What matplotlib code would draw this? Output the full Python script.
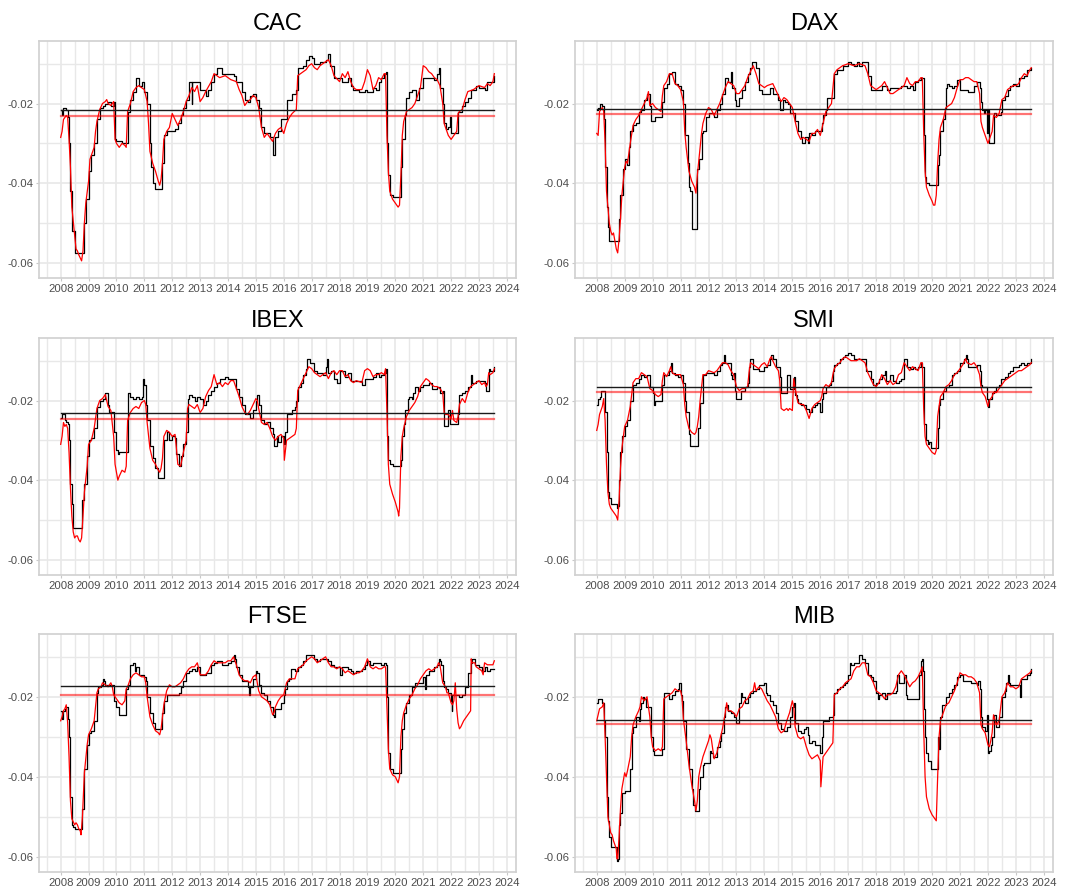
import matplotlib
matplotlib.use("Agg")
import matplotlib.pyplot as plt
from matplotlib.ticker import FixedLocator, FuncFormatter

plt.rcParams["font.family"] = ["Liberation Sans", "DejaVu Sans"]
plt.rcParams["axes.unicode_minus"] = False

# ---------------------------------------------------------------- data
INDICES = ["CAC", "DAX", "IBEX", "SMI", "FTSE", "MIB"]

# (year, value) pairs; black = step series, red = continuous series
CAC_BLACK = [(2008.00,-0.0215),(2008.05,-0.0230),(2008.08,-0.0212),(2008.20,-0.0215),(2008.25,-0.0235),(2008.30,-0.030),(2008.35,-0.042),(2008.40,-0.052),(2008.50,-0.0575),(2008.80,-0.0575),(2008.82,-0.050),(2008.90,-0.044),(2009.00,-0.037),(2009.10,-0.033),(2009.20,-0.030),(2009.30,-0.024),(2009.40,-0.021),(2009.50,-0.0205),(2009.60,-0.020),(2009.70,-0.0195),(2009.80,-0.0205),(2009.90,-0.0195),(2009.93,-0.029),(2010.00,-0.0295),(2010.20,-0.030),(2010.35,-0.030),(2010.40,-0.022),(2010.50,-0.019),(2010.60,-0.017),(2010.70,-0.0135),(2010.80,-0.0155),(2010.90,-0.0145),(2011.00,-0.017),(2011.10,-0.020),(2011.20,-0.030),(2011.25,-0.036),(2011.30,-0.040),(2011.40,-0.0415),(2011.60,-0.0415),(2011.65,-0.035),(2011.70,-0.028),(2011.80,-0.027),(2012.00,-0.027),(2012.10,-0.0265),(2012.20,-0.025),(2012.30,-0.023),(2012.40,-0.021),(2012.50,-0.019),(2012.60,-0.0145),(2012.70,-0.020),(2012.72,-0.0145),(2012.90,-0.0145),(2013.00,-0.0165),(2013.20,-0.018),(2013.30,-0.0165),(2013.40,-0.0145),(2013.50,-0.0125),(2013.60,-0.011),(2013.80,-0.0125),(2014.00,-0.0125),(2014.20,-0.013),(2014.30,-0.0145),(2014.50,-0.017),(2014.60,-0.019),(2014.70,-0.0195),(2014.80,-0.018),(2014.90,-0.0175),(2015.00,-0.019),(2015.10,-0.021),(2015.20,-0.026),(2015.30,-0.0275),(2015.50,-0.0285),(2015.60,-0.030),(2015.63,-0.033),(2015.67,-0.0285),(2015.80,-0.027),(2015.90,-0.024),(2016.10,-0.019),(2016.30,-0.0175),(2016.45,-0.0165),(2016.50,-0.011),(2016.70,-0.0105),(2016.80,-0.009),(2016.90,-0.008),(2017.00,-0.0085),(2017.10,-0.010),(2017.30,-0.0095),(2017.50,-0.009),(2017.60,-0.0075),(2017.65,-0.0105),(2017.80,-0.0135),(2018.00,-0.0135),(2018.10,-0.0145),(2018.30,-0.0135),(2018.40,-0.0155),(2018.50,-0.0165),(2018.70,-0.017),(2018.90,-0.0165),(2019.00,-0.017),(2019.20,-0.016),(2019.30,-0.0165),(2019.40,-0.0145),(2019.50,-0.0135),(2019.60,-0.0125),(2019.65,-0.012),(2019.70,-0.030),(2019.75,-0.038),(2019.80,-0.043),(2019.90,-0.0435),(2020.15,-0.0435),(2020.20,-0.036),(2020.25,-0.029),(2020.35,-0.023),(2020.40,-0.0185),(2020.50,-0.017),(2020.60,-0.0165),(2020.70,-0.0165),(2020.75,-0.019),(2020.85,-0.016),(2021.00,-0.0135),(2021.20,-0.0135),(2021.40,-0.014),(2021.50,-0.0125),(2021.55,-0.011),(2021.60,-0.016),(2021.70,-0.020),(2021.75,-0.025),(2021.80,-0.0265),(2021.90,-0.026),(2021.95,-0.0235),(2021.98,-0.0275),(2022.20,-0.0275),(2022.25,-0.022),(2022.40,-0.0205),(2022.50,-0.0195),(2022.60,-0.0185),(2022.70,-0.0165),(2022.90,-0.0155),(2023.00,-0.016),(2023.20,-0.0165),(2023.30,-0.0145),(2023.50,-0.0145),(2023.55,-0.013)]
CAC_RED = [(2008.00,-0.0285),(2008.05,-0.027),(2008.10,-0.024),(2008.20,-0.023),(2008.25,-0.0235),(2008.30,-0.029),(2008.35,-0.036),(2008.40,-0.046),(2008.50,-0.053),(2008.55,-0.0565),(2008.60,-0.057),(2008.65,-0.058),(2008.75,-0.0595),(2008.80,-0.057),(2008.85,-0.050),(2008.90,-0.045),(2009.00,-0.0395),(2009.05,-0.034),(2009.10,-0.033),(2009.20,-0.031),(2009.25,-0.027),(2009.30,-0.0245),(2009.40,-0.0215),(2009.50,-0.020),(2009.60,-0.0195),(2009.65,-0.019),(2009.70,-0.020),(2009.80,-0.0205),(2009.90,-0.0195),(2009.95,-0.029),(2010.00,-0.030),(2010.10,-0.031),(2010.20,-0.030),(2010.30,-0.0305),(2010.35,-0.031),(2010.40,-0.022),(2010.50,-0.020),(2010.60,-0.017),(2010.70,-0.016),(2010.80,-0.0155),(2010.90,-0.016),(2011.00,-0.0165),(2011.10,-0.0195),(2011.15,-0.025),(2011.20,-0.032),(2011.30,-0.035),(2011.40,-0.037),(2011.50,-0.0395),(2011.55,-0.0405),(2011.60,-0.039),(2011.65,-0.035),(2011.70,-0.029),(2011.80,-0.027),(2011.90,-0.026),(2012.00,-0.0225),(2012.10,-0.024),(2012.20,-0.0255),(2012.30,-0.024),(2012.40,-0.022),(2012.50,-0.0195),(2012.60,-0.018),(2012.70,-0.016),(2012.80,-0.017),(2012.90,-0.0155),(2013.00,-0.0195),(2013.10,-0.0185),(2013.20,-0.017),(2013.40,-0.0145),(2013.50,-0.0125),(2013.60,-0.013),(2013.70,-0.0135),(2013.90,-0.013),(2014.10,-0.014),(2014.30,-0.0145),(2014.40,-0.0165),(2014.50,-0.018),(2014.60,-0.0205),(2014.70,-0.0195),(2014.80,-0.019),(2014.90,-0.018),(2015.00,-0.0185),(2015.10,-0.021),(2015.20,-0.026),(2015.30,-0.0285),(2015.40,-0.0275),(2015.50,-0.0285),(2015.60,-0.0295),(2015.70,-0.0275),(2015.80,-0.0265),(2015.90,-0.026),(2016.00,-0.0275),(2016.10,-0.025),(2016.20,-0.0235),(2016.30,-0.0225),(2016.45,-0.0215),(2016.50,-0.013),(2016.60,-0.0125),(2016.80,-0.0115),(2016.90,-0.0105),(2017.00,-0.010),(2017.10,-0.011),(2017.20,-0.0115),(2017.30,-0.0105),(2017.50,-0.0095),(2017.60,-0.009),(2017.70,-0.0105),(2017.80,-0.013),(2018.00,-0.0145),(2018.10,-0.0125),(2018.20,-0.0135),(2018.30,-0.012),(2018.40,-0.0145),(2018.50,-0.016),(2018.60,-0.0165),(2018.80,-0.0165),(2018.90,-0.0145),(2019.00,-0.0115),(2019.10,-0.013),(2019.20,-0.0165),(2019.30,-0.0155),(2019.40,-0.0135),(2019.50,-0.014),(2019.60,-0.0125),(2019.65,-0.0125),(2019.70,-0.028),(2019.75,-0.037),(2019.80,-0.042),(2019.90,-0.044),(2020.00,-0.045),(2020.10,-0.046),(2020.15,-0.0455),(2020.20,-0.038),(2020.25,-0.028),(2020.30,-0.0245),(2020.40,-0.022),(2020.50,-0.0215),(2020.60,-0.021),(2020.70,-0.020),(2020.80,-0.018),(2020.90,-0.016),(2021.00,-0.0105),(2021.10,-0.011),(2021.20,-0.012),(2021.30,-0.0125),(2021.40,-0.0135),(2021.50,-0.014),(2021.60,-0.0155),(2021.70,-0.020),(2021.75,-0.025),(2021.80,-0.026),(2021.90,-0.028),(2022.00,-0.029),(2022.10,-0.028),(2022.20,-0.027),(2022.25,-0.0225),(2022.30,-0.022),(2022.40,-0.0215),(2022.50,-0.019),(2022.60,-0.017),(2022.80,-0.0165),(2023.00,-0.0155),(2023.20,-0.016),(2023.30,-0.015),(2023.40,-0.0155),(2023.50,-0.0145),(2023.55,-0.0125)]

DAX_BLACK = [(2008.00,-0.0215),(2008.05,-0.021),(2008.10,-0.020),(2008.20,-0.0205),(2008.25,-0.024),(2008.30,-0.036),(2008.35,-0.046),(2008.40,-0.051),(2008.45,-0.0545),(2008.75,-0.0545),(2008.78,-0.049),(2008.85,-0.043),(2008.95,-0.0365),(2009.00,-0.034),(2009.10,-0.0355),(2009.15,-0.031),(2009.20,-0.027),(2009.30,-0.0255),(2009.40,-0.025),(2009.50,-0.022),(2009.60,-0.0215),(2009.70,-0.019),(2009.80,-0.0175),(2009.90,-0.0205),(2009.95,-0.0245),(2010.10,-0.0235),(2010.30,-0.0235),(2010.35,-0.0195),(2010.40,-0.016),(2010.50,-0.015),(2010.60,-0.0125),(2010.70,-0.012),(2010.80,-0.015),(2010.90,-0.0155),(2011.00,-0.0165),(2011.10,-0.020),(2011.15,-0.028),(2011.25,-0.035),(2011.30,-0.041),(2011.35,-0.042),(2011.40,-0.0515),(2011.58,-0.0515),(2011.60,-0.0365),(2011.65,-0.034),(2011.75,-0.0275),(2011.80,-0.027),(2011.90,-0.0235),(2012.00,-0.0225),(2012.20,-0.0235),(2012.30,-0.0215),(2012.40,-0.020),(2012.50,-0.0175),(2012.60,-0.0135),(2012.70,-0.0145),(2012.80,-0.012),(2012.85,-0.016),(2012.95,-0.019),(2013.00,-0.0205),(2013.10,-0.0185),(2013.20,-0.0165),(2013.30,-0.0145),(2013.40,-0.0125),(2013.50,-0.011),(2013.55,-0.0095),(2013.60,-0.0095),(2013.70,-0.011),(2013.80,-0.0165),(2013.90,-0.0175),(2014.00,-0.0175),(2014.20,-0.016),(2014.30,-0.0175),(2014.40,-0.0175),(2014.50,-0.019),(2014.55,-0.0215),(2014.65,-0.019),(2014.75,-0.0195),(2014.85,-0.020),(2014.90,-0.0225),(2015.00,-0.0225),(2015.10,-0.0245),(2015.20,-0.027),(2015.30,-0.0285),(2015.35,-0.030),(2015.45,-0.0285),(2015.55,-0.030),(2015.60,-0.0275),(2015.70,-0.028),(2015.80,-0.027),(2016.00,-0.027),(2016.05,-0.025),(2016.10,-0.023),(2016.20,-0.0215),(2016.25,-0.0185),(2016.40,-0.0185),(2016.50,-0.0125),(2016.60,-0.0115),(2016.80,-0.0105),(2017.00,-0.0095),(2017.10,-0.010),(2017.20,-0.0105),(2017.30,-0.0095),(2017.40,-0.0105),(2017.50,-0.0095),(2017.60,-0.0095),(2017.70,-0.013),(2017.80,-0.0165),(2018.00,-0.0165),(2018.20,-0.0155),(2018.40,-0.0165),(2018.50,-0.016),(2018.70,-0.016),(2018.90,-0.0155),(2019.10,-0.016),(2019.20,-0.0155),(2019.30,-0.0165),(2019.40,-0.0145),(2019.50,-0.014),(2019.60,-0.0135),(2019.65,-0.0135),(2019.70,-0.028),(2019.75,-0.0385),(2019.80,-0.040),(2019.90,-0.0405),(2020.15,-0.0405),(2020.20,-0.0355),(2020.25,-0.033),(2020.30,-0.027),(2020.40,-0.024),(2020.45,-0.021),(2020.50,-0.016),(2020.55,-0.015),(2020.60,-0.0155),(2020.70,-0.016),(2020.80,-0.0155),(2020.90,-0.014),(2021.00,-0.0165),(2021.30,-0.017),(2021.40,-0.017),(2021.50,-0.0155),(2021.60,-0.0145),(2021.70,-0.016),(2021.75,-0.0195),(2021.80,-0.0215),(2021.85,-0.0225),(2021.90,-0.0215),(2021.95,-0.0275),(2022.00,-0.0215),(2022.05,-0.030),(2022.15,-0.030),(2022.20,-0.0225),(2022.30,-0.023),(2022.45,-0.022),(2022.50,-0.019),(2022.60,-0.018),(2022.70,-0.0165),(2022.80,-0.0155),(2022.90,-0.015),(2023.00,-0.0155),(2023.10,-0.0135),(2023.30,-0.013),(2023.40,-0.0115),(2023.50,-0.0115),(2023.55,-0.011)]
DAX_RED = [(2008.00,-0.0275),(2008.05,-0.028),(2008.10,-0.022),(2008.20,-0.021),(2008.25,-0.022),(2008.30,-0.030),(2008.35,-0.042),(2008.45,-0.050),(2008.50,-0.052),(2008.55,-0.053),(2008.60,-0.0525),(2008.70,-0.0565),(2008.75,-0.0575),(2008.80,-0.054),(2008.85,-0.049),(2008.90,-0.043),(2009.00,-0.036),(2009.05,-0.0345),(2009.10,-0.035),(2009.20,-0.030),(2009.30,-0.0255),(2009.40,-0.024),(2009.50,-0.023),(2009.60,-0.0215),(2009.70,-0.020),(2009.80,-0.0185),(2009.85,-0.017),(2009.90,-0.0205),(2010.00,-0.020),(2010.10,-0.021),(2010.20,-0.0215),(2010.30,-0.022),(2010.35,-0.018),(2010.40,-0.0155),(2010.50,-0.0145),(2010.60,-0.0125),(2010.70,-0.0125),(2010.80,-0.015),(2010.90,-0.0155),(2011.00,-0.0165),(2011.10,-0.0195),(2011.15,-0.027),(2011.20,-0.031),(2011.30,-0.037),(2011.40,-0.0395),(2011.50,-0.041),(2011.55,-0.0425),(2011.60,-0.038),(2011.65,-0.0345),(2011.70,-0.031),(2011.75,-0.0275),(2011.80,-0.025),(2011.90,-0.0225),(2012.00,-0.021),(2012.10,-0.0215),(2012.20,-0.023),(2012.30,-0.0215),(2012.40,-0.020),(2012.50,-0.018),(2012.60,-0.016),(2012.70,-0.0145),(2012.80,-0.015),(2012.90,-0.0155),(2013.00,-0.0175),(2013.10,-0.0175),(2013.20,-0.0165),(2013.30,-0.0155),(2013.40,-0.0135),(2013.50,-0.012),(2013.60,-0.0105),(2013.70,-0.0125),(2013.80,-0.015),(2013.90,-0.0155),(2014.00,-0.016),(2014.10,-0.0155),(2014.30,-0.015),(2014.40,-0.0165),(2014.50,-0.018),(2014.60,-0.0195),(2014.70,-0.0185),(2014.80,-0.019),(2014.90,-0.020),(2015.00,-0.021),(2015.10,-0.0245),(2015.20,-0.0275),(2015.30,-0.029),(2015.40,-0.0285),(2015.50,-0.029),(2015.60,-0.0295),(2015.70,-0.0275),(2015.80,-0.0275),(2015.90,-0.0265),(2016.00,-0.028),(2016.10,-0.025),(2016.20,-0.022),(2016.30,-0.021),(2016.40,-0.020),(2016.50,-0.0125),(2016.60,-0.0115),(2016.80,-0.0105),(2017.00,-0.010),(2017.20,-0.0105),(2017.40,-0.010),(2017.60,-0.0105),(2017.70,-0.0125),(2017.80,-0.0155),(2018.00,-0.0165),(2018.20,-0.0155),(2018.30,-0.0145),(2018.40,-0.016),(2018.50,-0.0175),(2018.60,-0.0175),(2018.80,-0.0165),(2019.00,-0.0155),(2019.10,-0.0135),(2019.20,-0.015),(2019.30,-0.0155),(2019.40,-0.0145),(2019.50,-0.0145),(2019.60,-0.0135),(2019.65,-0.0135),(2019.70,-0.027),(2019.75,-0.037),(2019.80,-0.041),(2019.90,-0.043),(2020.00,-0.0445),(2020.05,-0.0455),(2020.10,-0.0455),(2020.15,-0.043),(2020.20,-0.035),(2020.25,-0.029),(2020.30,-0.026),(2020.40,-0.024),(2020.50,-0.021),(2020.60,-0.0205),(2020.70,-0.020),(2020.80,-0.0185),(2020.90,-0.016),(2021.00,-0.014),(2021.10,-0.014),(2021.20,-0.0135),(2021.30,-0.0135),(2021.40,-0.014),(2021.50,-0.0145),(2021.60,-0.0145),(2021.70,-0.0175),(2021.75,-0.0245),(2021.80,-0.026),(2021.90,-0.028),(2022.00,-0.030),(2022.05,-0.029),(2022.15,-0.027),(2022.20,-0.023),(2022.30,-0.0235),(2022.40,-0.0225),(2022.50,-0.019),(2022.60,-0.0185),(2022.70,-0.0165),(2022.80,-0.016),(2022.90,-0.0155),(2023.00,-0.0155),(2023.10,-0.015),(2023.20,-0.0135),(2023.30,-0.0125),(2023.40,-0.013),(2023.50,-0.0115),(2023.55,-0.011)]

IBEX_BLACK = [(2008.00,-0.0245),(2008.05,-0.0235),(2008.10,-0.0235),(2008.15,-0.025),(2008.20,-0.0255),(2008.25,-0.026),(2008.30,-0.030),(2008.35,-0.041),(2008.40,-0.046),(2008.45,-0.052),(2008.75,-0.052),(2008.78,-0.045),(2008.85,-0.041),(2008.95,-0.034),(2009.00,-0.030),(2009.10,-0.0295),(2009.20,-0.027),(2009.30,-0.0215),(2009.40,-0.020),(2009.50,-0.0195),(2009.60,-0.018),(2009.70,-0.021),(2009.75,-0.023),(2009.85,-0.023),(2009.90,-0.028),(2010.00,-0.0325),(2010.05,-0.0335),(2010.10,-0.033),(2010.35,-0.033),(2010.40,-0.018),(2010.50,-0.019),(2010.60,-0.0195),(2010.70,-0.019),(2010.80,-0.0195),(2010.90,-0.019),(2010.95,-0.0145),(2011.00,-0.016),(2011.05,-0.021),(2011.10,-0.025),(2011.20,-0.0315),(2011.30,-0.0345),(2011.40,-0.037),(2011.50,-0.0395),(2011.65,-0.0395),(2011.70,-0.030),(2011.80,-0.028),(2011.90,-0.030),(2012.00,-0.029),(2012.10,-0.0295),(2012.15,-0.0335),(2012.25,-0.0365),(2012.30,-0.034),(2012.40,-0.031),(2012.50,-0.028),(2012.55,-0.0195),(2012.60,-0.0185),(2012.70,-0.019),(2012.80,-0.020),(2012.90,-0.019),(2013.00,-0.0195),(2013.10,-0.021),(2013.20,-0.020),(2013.30,-0.0185),(2013.40,-0.0175),(2013.50,-0.0165),(2013.60,-0.0155),(2013.70,-0.0145),(2013.90,-0.014),(2014.00,-0.0145),(2014.20,-0.0145),(2014.30,-0.017),(2014.40,-0.019),(2014.50,-0.021),(2014.60,-0.0235),(2014.80,-0.0245),(2014.90,-0.0225),(2015.00,-0.020),(2015.05,-0.0185),(2015.10,-0.021),(2015.20,-0.025),(2015.30,-0.026),(2015.40,-0.0255),(2015.50,-0.027),(2015.60,-0.0285),(2015.65,-0.0315),(2015.75,-0.029),(2015.80,-0.0305),(2015.90,-0.029),(2016.00,-0.031),(2016.05,-0.028),(2016.10,-0.0235),(2016.20,-0.0235),(2016.30,-0.0225),(2016.40,-0.0215),(2016.45,-0.020),(2016.50,-0.0165),(2016.60,-0.0155),(2016.70,-0.0135),(2016.80,-0.012),(2016.85,-0.0095),(2016.95,-0.0105),(2017.10,-0.0125),(2017.20,-0.013),(2017.40,-0.0135),(2017.50,-0.0115),(2017.55,-0.0095),(2017.60,-0.013),(2017.70,-0.0125),(2017.80,-0.0145),(2017.90,-0.0155),(2018.00,-0.0125),(2018.10,-0.0125),(2018.20,-0.014),(2018.30,-0.013),(2018.40,-0.015),(2018.60,-0.015),(2018.80,-0.016),(2018.90,-0.0145),(2019.00,-0.0145),(2019.20,-0.014),(2019.30,-0.013),(2019.40,-0.014),(2019.50,-0.0135),(2019.60,-0.013),(2019.65,-0.012),(2019.70,-0.029),(2019.75,-0.035),(2019.80,-0.036),(2019.90,-0.0365),(2020.15,-0.0365),(2020.20,-0.035),(2020.25,-0.029),(2020.30,-0.026),(2020.35,-0.0225),(2020.45,-0.0195),(2020.50,-0.019),(2020.60,-0.0195),(2020.65,-0.018),(2020.70,-0.0165),(2020.80,-0.0175),(2020.90,-0.0165),(2021.00,-0.016),(2021.20,-0.0155),(2021.30,-0.017),(2021.50,-0.0165),(2021.60,-0.018),(2021.70,-0.0175),(2021.75,-0.0265),(2021.85,-0.0265),(2021.90,-0.0225),(2021.95,-0.026),(2022.20,-0.026),(2022.25,-0.0235),(2022.30,-0.0185),(2022.40,-0.018),(2022.50,-0.0175),(2022.60,-0.0165),(2022.70,-0.0135),(2022.75,-0.0155),(2022.90,-0.015),(2023.20,-0.0155),(2023.25,-0.0175),(2023.30,-0.0175),(2023.35,-0.012),(2023.40,-0.0125),(2023.50,-0.0125),(2023.55,-0.0115)]
IBEX_RED = [(2008.00,-0.031),(2008.05,-0.029),(2008.10,-0.0255),(2008.15,-0.0265),(2008.20,-0.026),(2008.25,-0.027),(2008.30,-0.033),(2008.35,-0.042),(2008.40,-0.049),(2008.45,-0.053),(2008.50,-0.0545),(2008.55,-0.054),(2008.60,-0.054),(2008.65,-0.055),(2008.70,-0.0555),(2008.75,-0.0545),(2008.80,-0.049),(2008.85,-0.043),(2008.95,-0.0365),(2009.00,-0.031),(2009.10,-0.030),(2009.20,-0.027),(2009.30,-0.022),(2009.40,-0.020),(2009.50,-0.0195),(2009.60,-0.0185),(2009.70,-0.0215),(2009.80,-0.0225),(2009.90,-0.029),(2009.95,-0.036),(2010.00,-0.038),(2010.05,-0.040),(2010.10,-0.039),(2010.20,-0.0375),(2010.30,-0.038),(2010.35,-0.0365),(2010.40,-0.025),(2010.50,-0.023),(2010.60,-0.022),(2010.70,-0.0215),(2010.80,-0.022),(2010.90,-0.0205),(2011.00,-0.020),(2011.05,-0.021),(2011.10,-0.0255),(2011.20,-0.032),(2011.30,-0.035),(2011.40,-0.036),(2011.50,-0.0375),(2011.55,-0.038),(2011.60,-0.037),(2011.65,-0.0345),(2011.70,-0.029),(2011.80,-0.0275),(2011.90,-0.028),(2012.00,-0.029),(2012.10,-0.0285),(2012.15,-0.032),(2012.20,-0.036),(2012.30,-0.0365),(2012.40,-0.033),(2012.50,-0.030),(2012.55,-0.022),(2012.60,-0.021),(2012.70,-0.0215),(2012.80,-0.022),(2012.90,-0.021),(2013.00,-0.023),(2013.10,-0.022),(2013.20,-0.019),(2013.30,-0.0175),(2013.40,-0.0165),(2013.50,-0.0135),(2013.60,-0.016),(2013.70,-0.0155),(2013.80,-0.0165),(2013.90,-0.0155),(2014.00,-0.016),(2014.10,-0.015),(2014.20,-0.015),(2014.30,-0.017),(2014.40,-0.019),(2014.50,-0.0215),(2014.60,-0.023),(2014.70,-0.0235),(2014.80,-0.0225),(2014.90,-0.021),(2015.00,-0.0195),(2015.05,-0.020),(2015.10,-0.022),(2015.20,-0.0255),(2015.30,-0.026),(2015.40,-0.0255),(2015.50,-0.027),(2015.60,-0.029),(2015.70,-0.030),(2015.80,-0.029),(2015.90,-0.0285),(2016.00,-0.0295),(2016.02,-0.035),(2016.10,-0.030),(2016.20,-0.0295),(2016.30,-0.029),(2016.40,-0.0285),(2016.45,-0.027),(2016.50,-0.0175),(2016.60,-0.016),(2016.70,-0.0145),(2016.80,-0.013),(2016.90,-0.0115),(2017.00,-0.012),(2017.10,-0.013),(2017.20,-0.0135),(2017.30,-0.014),(2017.40,-0.0135),(2017.50,-0.013),(2017.60,-0.0145),(2017.70,-0.013),(2017.80,-0.0125),(2017.90,-0.0135),(2018.00,-0.0125),(2018.10,-0.0125),(2018.20,-0.014),(2018.30,-0.0135),(2018.40,-0.015),(2018.50,-0.0155),(2018.60,-0.015),(2018.80,-0.0155),(2018.90,-0.0125),(2019.00,-0.012),(2019.10,-0.0125),(2019.20,-0.014),(2019.30,-0.0135),(2019.40,-0.0135),(2019.50,-0.013),(2019.60,-0.0135),(2019.65,-0.012),(2019.70,-0.023),(2019.75,-0.036),(2019.80,-0.041),(2019.90,-0.0435),(2020.00,-0.0455),(2020.10,-0.048),(2020.12,-0.049),(2020.15,-0.047),(2020.20,-0.034),(2020.25,-0.029),(2020.30,-0.027),(2020.35,-0.0255),(2020.40,-0.024),(2020.50,-0.0225),(2020.60,-0.0215),(2020.70,-0.0205),(2020.80,-0.019),(2020.90,-0.0165),(2021.00,-0.0155),(2021.10,-0.0145),(2021.20,-0.015),(2021.30,-0.016),(2021.40,-0.0165),(2021.50,-0.0165),(2021.60,-0.017),(2021.70,-0.018),(2021.75,-0.023),(2021.80,-0.0235),(2021.90,-0.0235),(2022.00,-0.0245),(2022.05,-0.0225),(2022.10,-0.025),(2022.20,-0.0255),(2022.25,-0.024),(2022.30,-0.021),(2022.40,-0.0195),(2022.50,-0.0205),(2022.60,-0.018),(2022.70,-0.0165),(2022.80,-0.016),(2022.90,-0.0155),(2023.00,-0.015),(2023.10,-0.016),(2023.20,-0.0155),(2023.25,-0.0165),(2023.30,-0.016),(2023.35,-0.013),(2023.40,-0.0135),(2023.50,-0.013),(2023.55,-0.012)]

SMI_BLACK = [(2008.00,-0.021),(2008.05,-0.0195),(2008.10,-0.019),(2008.15,-0.0175),(2008.25,-0.0175),(2008.30,-0.023),(2008.35,-0.033),(2008.40,-0.043),(2008.45,-0.0445),(2008.50,-0.046),(2008.70,-0.046),(2008.72,-0.047),(2008.75,-0.0465),(2008.80,-0.040),(2008.85,-0.033),(2008.90,-0.029),(2009.00,-0.0265),(2009.10,-0.025),(2009.20,-0.020),(2009.30,-0.016),(2009.40,-0.0155),(2009.50,-0.0145),(2009.60,-0.0135),(2009.70,-0.014),(2009.80,-0.0135),(2009.90,-0.0165),(2010.00,-0.018),(2010.05,-0.021),(2010.10,-0.020),(2010.30,-0.020),(2010.35,-0.016),(2010.40,-0.0135),(2010.60,-0.0125),(2010.65,-0.0105),(2010.70,-0.013),(2010.80,-0.0135),(2010.90,-0.014),(2011.00,-0.0135),(2011.10,-0.0155),(2011.15,-0.020),(2011.20,-0.023),(2011.30,-0.0285),(2011.35,-0.0315),(2011.60,-0.0315),(2011.62,-0.027),(2011.70,-0.0205),(2011.80,-0.0135),(2011.90,-0.013),(2012.10,-0.013),(2012.20,-0.0135),(2012.30,-0.0125),(2012.40,-0.011),(2012.50,-0.0105),(2012.55,-0.0085),(2012.60,-0.0105),(2012.70,-0.0105),(2012.80,-0.0135),(2012.85,-0.0145),(2012.90,-0.013),(2012.95,-0.0175),(2013.00,-0.0195),(2013.10,-0.0195),(2013.15,-0.0175),(2013.30,-0.0165),(2013.40,-0.0155),(2013.45,-0.0115),(2013.50,-0.0095),(2013.60,-0.012),(2013.80,-0.0125),(2014.00,-0.0115),(2014.10,-0.011),(2014.20,-0.0095),(2014.25,-0.0085),(2014.30,-0.0095),(2014.40,-0.0115),(2014.50,-0.0115),(2014.55,-0.014),(2014.60,-0.018),(2014.80,-0.018),(2014.82,-0.0135),(2014.90,-0.017),(2015.00,-0.017),(2015.05,-0.014),(2015.10,-0.0185),(2015.15,-0.0195),(2015.20,-0.0205),(2015.30,-0.021),(2015.40,-0.021),(2015.50,-0.022),(2015.60,-0.023),(2015.70,-0.0215),(2015.80,-0.021),(2015.90,-0.0205),(2016.00,-0.023),(2016.05,-0.0195),(2016.10,-0.018),(2016.20,-0.0165),(2016.30,-0.016),(2016.40,-0.015),(2016.45,-0.0125),(2016.50,-0.011),(2016.60,-0.0105),(2016.70,-0.0095),(2016.80,-0.009),(2016.90,-0.0085),(2017.00,-0.008),(2017.10,-0.0085),(2017.20,-0.0095),(2017.60,-0.0095),(2017.65,-0.0125),(2017.80,-0.0145),(2017.90,-0.016),(2018.00,-0.0155),(2018.10,-0.0145),(2018.20,-0.0135),(2018.30,-0.0125),(2018.35,-0.015),(2018.50,-0.0135),(2018.60,-0.015),(2018.70,-0.0155),(2018.80,-0.015),(2018.90,-0.0145),(2019.00,-0.0095),(2019.05,-0.0095),(2019.10,-0.0115),(2019.20,-0.012),(2019.30,-0.0115),(2019.40,-0.012),(2019.50,-0.0115),(2019.60,-0.0105),(2019.65,-0.0115),(2019.70,-0.0195),(2019.72,-0.026),(2019.80,-0.030),(2019.85,-0.031),(2019.90,-0.0305),(2019.95,-0.032),(2020.15,-0.032),(2020.20,-0.027),(2020.25,-0.021),(2020.30,-0.0195),(2020.40,-0.0175),(2020.50,-0.0165),(2020.60,-0.016),(2020.70,-0.0135),(2020.80,-0.013),(2020.90,-0.0125),(2021.00,-0.0105),(2021.10,-0.0105),(2021.15,-0.0095),(2021.20,-0.0085),(2021.25,-0.0095),(2021.30,-0.0115),(2021.50,-0.0115),(2021.60,-0.011),(2021.70,-0.0125),(2021.75,-0.016),(2021.80,-0.0165),(2021.90,-0.0165),(2021.95,-0.0195),(2022.00,-0.0215),(2022.05,-0.0195),(2022.15,-0.018),(2022.20,-0.0175),(2022.30,-0.0165),(2022.40,-0.016),(2022.45,-0.0145),(2022.60,-0.014),(2022.70,-0.013),(2022.80,-0.0125),(2022.90,-0.0115),(2023.00,-0.0115),(2023.10,-0.011),(2023.20,-0.0105),(2023.30,-0.011),(2023.40,-0.0105),(2023.50,-0.0105),(2023.55,-0.0095)]
SMI_RED = [(2008.00,-0.0275),(2008.05,-0.026),(2008.10,-0.0235),(2008.15,-0.0225),(2008.20,-0.0215),(2008.25,-0.0195),(2008.30,-0.025),(2008.35,-0.036),(2008.40,-0.043),(2008.45,-0.046),(2008.50,-0.047),(2008.60,-0.048),(2008.70,-0.049),(2008.75,-0.050),(2008.80,-0.045),(2008.85,-0.037),(2008.90,-0.032),(2009.00,-0.0265),(2009.10,-0.025),(2009.20,-0.0215),(2009.30,-0.0155),(2009.40,-0.0145),(2009.50,-0.0145),(2009.60,-0.013),(2009.70,-0.0135),(2009.80,-0.014),(2009.90,-0.017),(2010.00,-0.0175),(2010.10,-0.0185),(2010.20,-0.019),(2010.30,-0.0185),(2010.35,-0.015),(2010.40,-0.013),(2010.50,-0.014),(2010.60,-0.0125),(2010.65,-0.0115),(2010.70,-0.013),(2010.80,-0.0135),(2011.00,-0.0135),(2011.10,-0.016),(2011.15,-0.021),(2011.20,-0.024),(2011.30,-0.027),(2011.40,-0.028),(2011.50,-0.0285),(2011.55,-0.028),(2011.60,-0.0265),(2011.65,-0.024),(2011.70,-0.020),(2011.80,-0.0135),(2011.90,-0.0135),(2012.00,-0.0125),(2012.20,-0.013),(2012.30,-0.0125),(2012.40,-0.0115),(2012.50,-0.0105),(2012.60,-0.0105),(2012.70,-0.011),(2012.80,-0.0125),(2012.90,-0.0135),(2013.00,-0.0165),(2013.10,-0.0175),(2013.20,-0.017),(2013.30,-0.017),(2013.40,-0.0165),(2013.45,-0.013),(2013.50,-0.0105),(2013.60,-0.011),(2013.70,-0.0115),(2013.80,-0.012),(2013.90,-0.011),(2014.00,-0.0105),(2014.10,-0.0115),(2014.20,-0.0095),(2014.25,-0.009),(2014.30,-0.010),(2014.40,-0.0115),(2014.50,-0.0125),(2014.55,-0.015),(2014.60,-0.022),(2014.70,-0.0225),(2014.80,-0.022),(2014.85,-0.0225),(2014.90,-0.022),(2015.00,-0.0225),(2015.05,-0.0145),(2015.10,-0.017),(2015.20,-0.0205),(2015.30,-0.021),(2015.40,-0.021),(2015.50,-0.0225),(2015.60,-0.0245),(2015.70,-0.022),(2015.80,-0.021),(2015.90,-0.0205),(2016.00,-0.020),(2016.05,-0.019),(2016.10,-0.017),(2016.20,-0.016),(2016.30,-0.0165),(2016.40,-0.0155),(2016.45,-0.0135),(2016.50,-0.012),(2016.60,-0.011),(2016.70,-0.0105),(2016.80,-0.0095),(2016.90,-0.009),(2017.00,-0.0095),(2017.10,-0.010),(2017.30,-0.010),(2017.40,-0.0095),(2017.50,-0.010),(2017.60,-0.0105),(2017.70,-0.013),(2017.80,-0.0145),(2017.90,-0.016),(2018.00,-0.0165),(2018.10,-0.0155),(2018.20,-0.0135),(2018.30,-0.0145),(2018.40,-0.016),(2018.50,-0.015),(2018.60,-0.016),(2018.70,-0.0155),(2018.80,-0.0135),(2018.90,-0.013),(2019.00,-0.0105),(2019.10,-0.0115),(2019.20,-0.0125),(2019.30,-0.0115),(2019.40,-0.012),(2019.50,-0.0125),(2019.60,-0.0105),(2019.65,-0.0105),(2019.70,-0.022),(2019.75,-0.029),(2019.80,-0.031),(2019.90,-0.032),(2020.00,-0.033),(2020.10,-0.0335),(2020.15,-0.0325),(2020.20,-0.024),(2020.25,-0.0215),(2020.30,-0.019),(2020.40,-0.018),(2020.50,-0.0165),(2020.60,-0.016),(2020.70,-0.015),(2020.80,-0.0135),(2020.90,-0.013),(2021.00,-0.012),(2021.10,-0.011),(2021.20,-0.0095),(2021.25,-0.0105),(2021.40,-0.011),(2021.50,-0.0105),(2021.60,-0.0115),(2021.70,-0.0135),(2021.75,-0.0165),(2021.80,-0.018),(2021.90,-0.019),(2022.00,-0.0215),(2022.05,-0.020),(2022.15,-0.019),(2022.20,-0.018),(2022.30,-0.018),(2022.40,-0.017),(2022.50,-0.016),(2022.60,-0.015),(2022.70,-0.0145),(2022.80,-0.014),(2022.90,-0.0135),(2023.00,-0.013),(2023.10,-0.0125),(2023.20,-0.0125),(2023.30,-0.012),(2023.40,-0.0115),(2023.50,-0.011),(2023.55,-0.0105)]

FTSE_BLACK = [(2008.00,-0.0235),(2008.05,-0.0255),(2008.10,-0.0235),(2008.15,-0.023),(2008.20,-0.0225),(2008.25,-0.0255),(2008.30,-0.030),(2008.35,-0.045),(2008.40,-0.052),(2008.45,-0.0525),(2008.50,-0.053),(2008.75,-0.053),(2008.78,-0.048),(2008.85,-0.038),(2008.95,-0.032),(2009.00,-0.029),(2009.10,-0.0285),(2009.20,-0.026),(2009.30,-0.019),(2009.35,-0.0175),(2009.45,-0.017),(2009.50,-0.0155),(2009.55,-0.016),(2009.60,-0.017),(2009.90,-0.017),(2009.92,-0.021),(2010.00,-0.0225),(2010.10,-0.0245),(2010.30,-0.0245),(2010.35,-0.018),(2010.40,-0.017),(2010.50,-0.012),(2010.60,-0.0115),(2010.65,-0.0135),(2010.70,-0.0125),(2010.80,-0.0145),(2010.90,-0.0145),(2011.00,-0.015),(2011.05,-0.016),(2011.10,-0.020),(2011.20,-0.024),(2011.30,-0.0265),(2011.40,-0.028),(2011.60,-0.028),(2011.65,-0.024),(2011.70,-0.021),(2011.80,-0.0195),(2012.20,-0.0195),(2012.25,-0.019),(2012.30,-0.0175),(2012.40,-0.016),(2012.50,-0.014),(2012.60,-0.0135),(2012.70,-0.013),(2012.80,-0.0135),(2012.90,-0.0125),(2013.00,-0.0145),(2013.10,-0.0145),(2013.20,-0.014),(2013.40,-0.012),(2013.50,-0.0115),(2013.60,-0.011),(2013.70,-0.011),(2013.80,-0.012),(2014.00,-0.0115),(2014.10,-0.011),(2014.20,-0.0095),(2014.25,-0.0105),(2014.30,-0.0125),(2014.40,-0.0145),(2014.50,-0.016),(2014.60,-0.016),(2014.70,-0.0175),(2014.75,-0.0195),(2014.80,-0.0175),(2014.90,-0.0155),(2015.00,-0.0135),(2015.05,-0.014),(2015.10,-0.017),(2015.20,-0.019),(2015.30,-0.0195),(2015.40,-0.021),(2015.50,-0.0225),(2015.60,-0.0245),(2015.65,-0.025),(2015.70,-0.023),(2015.80,-0.023),(2015.90,-0.0215),(2016.00,-0.0195),(2016.05,-0.018),(2016.10,-0.016),(2016.20,-0.0155),(2016.25,-0.013),(2016.40,-0.0135),(2016.50,-0.0125),(2016.60,-0.012),(2016.70,-0.011),(2016.80,-0.0095),(2017.00,-0.0095),(2017.10,-0.0105),(2017.20,-0.011),(2017.30,-0.0105),(2017.50,-0.0105),(2017.60,-0.011),(2017.70,-0.012),(2017.80,-0.0125),(2017.90,-0.0125),(2018.00,-0.0145),(2018.10,-0.0125),(2018.20,-0.0125),(2018.30,-0.013),(2018.40,-0.0135),(2018.50,-0.014),(2018.60,-0.0135),(2018.70,-0.0135),(2018.80,-0.013),(2018.90,-0.012),(2019.00,-0.011),(2019.10,-0.012),(2019.20,-0.0115),(2019.30,-0.0115),(2019.50,-0.012),(2019.60,-0.0115),(2019.65,-0.012),(2019.70,-0.020),(2019.75,-0.034),(2019.80,-0.038),(2019.90,-0.039),(2020.15,-0.039),(2020.20,-0.033),(2020.25,-0.028),(2020.30,-0.024),(2020.40,-0.0215),(2020.50,-0.0195),(2020.60,-0.0175),(2020.70,-0.0165),(2020.90,-0.0165),(2021.00,-0.015),(2021.05,-0.018),(2021.10,-0.0145),(2021.20,-0.0135),(2021.30,-0.0135),(2021.40,-0.0125),(2021.50,-0.012),(2021.55,-0.0105),(2021.60,-0.011),(2021.65,-0.012),(2021.70,-0.016),(2021.75,-0.0175),(2021.80,-0.018),(2021.90,-0.019),(2022.00,-0.021),(2022.02,-0.0235),(2022.05,-0.0195),(2022.30,-0.020),(2022.40,-0.0195),(2022.50,-0.0175),(2022.60,-0.014),(2022.70,-0.0115),(2022.75,-0.0105),(2022.85,-0.012),(2023.00,-0.0125),(2023.10,-0.0135),(2023.20,-0.0125),(2023.30,-0.0135),(2023.40,-0.013),(2023.55,-0.013)]
FTSE_RED = [(2008.00,-0.026),(2008.05,-0.025),(2008.10,-0.0235),(2008.15,-0.023),(2008.20,-0.022),(2008.25,-0.0265),(2008.30,-0.035),(2008.35,-0.046),(2008.40,-0.0505),(2008.50,-0.052),(2008.55,-0.0515),(2008.60,-0.052),(2008.65,-0.053),(2008.70,-0.0535),(2008.73,-0.0545),(2008.78,-0.050),(2008.85,-0.039),(2008.95,-0.032),(2009.00,-0.0295),(2009.10,-0.028),(2009.20,-0.026),(2009.30,-0.019),(2009.35,-0.018),(2009.45,-0.0175),(2009.50,-0.0165),(2009.60,-0.017),(2009.70,-0.0175),(2009.80,-0.0165),(2009.85,-0.0175),(2009.90,-0.0195),(2010.00,-0.0205),(2010.10,-0.0215),(2010.20,-0.022),(2010.30,-0.021),(2010.35,-0.018),(2010.40,-0.0175),(2010.50,-0.0155),(2010.60,-0.0145),(2010.70,-0.014),(2010.80,-0.0145),(2010.90,-0.015),(2011.00,-0.015),(2011.05,-0.0165),(2011.10,-0.020),(2011.20,-0.025),(2011.30,-0.027),(2011.40,-0.0285),(2011.50,-0.029),(2011.55,-0.0295),(2011.60,-0.028),(2011.65,-0.025),(2011.70,-0.022),(2011.80,-0.0185),(2011.90,-0.017),(2012.00,-0.0175),(2012.10,-0.0175),(2012.20,-0.017),(2012.30,-0.0165),(2012.40,-0.0155),(2012.50,-0.014),(2012.60,-0.013),(2012.70,-0.0125),(2012.80,-0.0125),(2012.90,-0.0115),(2013.00,-0.0145),(2013.20,-0.0145),(2013.30,-0.0135),(2013.40,-0.012),(2013.50,-0.011),(2013.60,-0.0115),(2013.90,-0.0115),(2014.00,-0.011),(2014.10,-0.011),(2014.20,-0.010),(2014.25,-0.011),(2014.30,-0.012),(2014.40,-0.0145),(2014.50,-0.0155),(2014.60,-0.016),(2014.70,-0.016),(2014.80,-0.0165),(2014.90,-0.015),(2015.00,-0.0145),(2015.10,-0.0185),(2015.20,-0.020),(2015.30,-0.0205),(2015.40,-0.021),(2015.50,-0.022),(2015.60,-0.0245),(2015.65,-0.024),(2015.70,-0.0225),(2015.80,-0.021),(2015.90,-0.020),(2016.00,-0.0195),(2016.10,-0.0165),(2016.20,-0.0155),(2016.40,-0.0155),(2016.50,-0.013),(2016.60,-0.0125),(2016.70,-0.012),(2016.80,-0.011),(2016.90,-0.0105),(2017.00,-0.010),(2017.10,-0.0105),(2017.20,-0.0115),(2017.30,-0.011),(2017.40,-0.0105),(2017.50,-0.010),(2017.60,-0.0115),(2017.70,-0.0125),(2017.80,-0.0125),(2017.90,-0.013),(2018.00,-0.0125),(2018.10,-0.013),(2018.20,-0.014),(2018.30,-0.0135),(2018.40,-0.014),(2018.50,-0.0145),(2018.60,-0.014),(2018.70,-0.014),(2018.80,-0.0135),(2018.90,-0.0125),(2019.00,-0.0105),(2019.10,-0.0125),(2019.20,-0.013),(2019.30,-0.0125),(2019.40,-0.013),(2019.50,-0.013),(2019.60,-0.0125),(2019.65,-0.0125),(2019.70,-0.023),(2019.75,-0.033),(2019.80,-0.038),(2019.90,-0.0395),(2020.00,-0.040),(2020.10,-0.0415),(2020.15,-0.040),(2020.20,-0.030),(2020.25,-0.026),(2020.30,-0.024),(2020.40,-0.022),(2020.50,-0.0205),(2020.60,-0.0195),(2020.70,-0.018),(2020.80,-0.017),(2020.90,-0.0155),(2021.00,-0.0145),(2021.10,-0.0135),(2021.20,-0.013),(2021.30,-0.0135),(2021.40,-0.013),(2021.50,-0.0125),(2021.55,-0.0115),(2021.60,-0.012),(2021.70,-0.0165),(2021.80,-0.0175),(2021.85,-0.019),(2021.90,-0.019),(2022.00,-0.0215),(2022.05,-0.022),(2022.10,-0.021),(2022.15,-0.0165),(2022.20,-0.023),(2022.25,-0.0265),(2022.30,-0.028),(2022.35,-0.0275),(2022.45,-0.026),(2022.55,-0.025),(2022.65,-0.024),(2022.70,-0.0235),(2022.72,-0.0105),(2022.75,-0.0115),(2022.85,-0.0115),(2022.90,-0.0125),(2023.00,-0.013),(2023.10,-0.0135),(2023.15,-0.0145),(2023.20,-0.0115),(2023.30,-0.012),(2023.50,-0.012),(2023.55,-0.011)]

MIB_BLACK = [(2008.00,-0.0215),(2008.05,-0.0205),(2008.15,-0.0205),(2008.20,-0.0215),(2008.25,-0.026),(2008.30,-0.030),(2008.35,-0.045),(2008.40,-0.051),(2008.45,-0.055),(2008.50,-0.0575),(2008.70,-0.0575),(2008.72,-0.061),(2008.75,-0.0605),(2008.80,-0.052),(2008.85,-0.049),(2008.90,-0.044),(2009.00,-0.0435),(2009.15,-0.0435),(2009.20,-0.038),(2009.25,-0.029),(2009.30,-0.0275),(2009.40,-0.025),(2009.50,-0.026),(2009.55,-0.023),(2009.60,-0.0215),(2009.65,-0.020),(2009.70,-0.0205),(2009.75,-0.0225),(2009.90,-0.0225),(2009.95,-0.030),(2010.00,-0.0335),(2010.05,-0.0345),(2010.30,-0.0345),(2010.35,-0.033),(2010.40,-0.019),(2010.50,-0.019),(2010.60,-0.0205),(2010.70,-0.0195),(2010.80,-0.0185),(2010.90,-0.018),(2010.95,-0.0165),(2011.00,-0.0195),(2011.05,-0.021),(2011.10,-0.026),(2011.20,-0.033),(2011.30,-0.038),(2011.40,-0.043),(2011.45,-0.047),(2011.50,-0.0485),(2011.60,-0.0485),(2011.65,-0.043),(2011.70,-0.040),(2011.80,-0.037),(2011.85,-0.0365),(2012.00,-0.0365),(2012.05,-0.0335),(2012.10,-0.034),(2012.15,-0.035),(2012.30,-0.0325),(2012.40,-0.031),(2012.45,-0.029),(2012.55,-0.025),(2012.60,-0.0225),(2012.65,-0.022),(2012.70,-0.0235),(2012.80,-0.024),(2012.90,-0.025),(2013.00,-0.0265),(2013.10,-0.0215),(2013.15,-0.019),(2013.20,-0.020),(2013.30,-0.0215),(2013.40,-0.020),(2013.50,-0.019),(2013.60,-0.0185),(2013.70,-0.018),(2013.80,-0.017),(2014.00,-0.0165),(2014.05,-0.019),(2014.10,-0.0195),(2014.20,-0.021),(2014.30,-0.022),(2014.40,-0.024),(2014.50,-0.0265),(2014.60,-0.028),(2014.70,-0.0285),(2014.80,-0.0275),(2014.90,-0.025),(2015.00,-0.0225),(2015.05,-0.0215),(2015.10,-0.0265),(2015.20,-0.0285),(2015.30,-0.029),(2015.40,-0.028),(2015.50,-0.0275),(2015.55,-0.0295),(2015.60,-0.0315),(2015.70,-0.031),(2015.80,-0.032),(2015.90,-0.032),(2016.00,-0.034),(2016.05,-0.030),(2016.10,-0.026),(2016.30,-0.025),(2016.45,-0.0245),(2016.50,-0.019),(2016.60,-0.018),(2016.70,-0.0175),(2016.80,-0.017),(2016.90,-0.0165),(2016.95,-0.016),(2017.00,-0.0145),(2017.05,-0.0115),(2017.10,-0.012),(2017.20,-0.0115),(2017.30,-0.0115),(2017.40,-0.0095),(2017.50,-0.0105),(2017.60,-0.0115),(2017.70,-0.0145),(2017.80,-0.015),(2017.90,-0.016),(2018.00,-0.019),(2018.05,-0.0205),(2018.10,-0.0195),(2018.20,-0.019),(2018.30,-0.0205),(2018.40,-0.019),(2018.70,-0.0185),(2018.75,-0.0145),(2018.80,-0.0165),(2018.90,-0.0165),(2019.00,-0.0145),(2019.05,-0.0195),(2019.10,-0.0205),(2019.50,-0.0205),(2019.55,-0.0145),(2019.60,-0.011),(2019.65,-0.0105),(2019.67,-0.0135),(2019.70,-0.023),(2019.75,-0.030),(2019.80,-0.034),(2019.85,-0.036),(2019.95,-0.038),(2020.15,-0.038),(2020.20,-0.030),(2020.25,-0.033),(2020.30,-0.025),(2020.35,-0.022),(2020.50,-0.020),(2020.60,-0.019),(2020.70,-0.018),(2020.80,-0.017),(2020.90,-0.015),(2021.00,-0.0145),(2021.10,-0.016),(2021.30,-0.016),(2021.40,-0.0165),(2021.60,-0.017),(2021.65,-0.016),(2021.70,-0.018),(2021.75,-0.025),(2021.80,-0.0275),(2021.90,-0.0285),(2021.95,-0.0245),(2022.00,-0.034),(2022.05,-0.0335),(2022.10,-0.032),(2022.15,-0.030),(2022.20,-0.0245),(2022.30,-0.0275),(2022.40,-0.025),(2022.50,-0.020),(2022.60,-0.0185),(2022.65,-0.0165),(2022.70,-0.0145),(2022.75,-0.0165),(2022.80,-0.017),(2023.10,-0.017),(2023.15,-0.020),(2023.20,-0.0155),(2023.30,-0.0155),(2023.40,-0.0145),(2023.50,-0.014),(2023.55,-0.013)]
MIB_RED = [(2008.00,-0.026),(2008.05,-0.0245),(2008.10,-0.023),(2008.20,-0.0225),(2008.25,-0.0215),(2008.30,-0.030),(2008.35,-0.040),(2008.40,-0.050),(2008.50,-0.054),(2008.55,-0.0545),(2008.60,-0.056),(2008.65,-0.057),(2008.70,-0.058),(2008.72,-0.0605),(2008.75,-0.0605),(2008.80,-0.055),(2008.85,-0.048),(2008.90,-0.043),(2009.00,-0.039),(2009.05,-0.040),(2009.10,-0.0385),(2009.20,-0.035),(2009.25,-0.030),(2009.30,-0.027),(2009.40,-0.025),(2009.50,-0.0235),(2009.55,-0.0225),(2009.60,-0.020),(2009.70,-0.021),(2009.75,-0.0205),(2009.80,-0.020),(2009.90,-0.025),(2009.95,-0.030),(2010.00,-0.0325),(2010.10,-0.0335),(2010.20,-0.033),(2010.30,-0.0335),(2010.35,-0.0325),(2010.40,-0.0205),(2010.50,-0.020),(2010.60,-0.0195),(2010.70,-0.019),(2010.80,-0.018),(2010.90,-0.0185),(2011.00,-0.0185),(2011.05,-0.020),(2011.10,-0.0255),(2011.20,-0.031),(2011.30,-0.037),(2011.40,-0.042),(2011.50,-0.046),(2011.55,-0.0485),(2011.60,-0.046),(2011.65,-0.040),(2011.70,-0.038),(2011.80,-0.035),(2011.90,-0.033),(2012.00,-0.031),(2012.05,-0.0295),(2012.10,-0.0305),(2012.20,-0.0355),(2012.30,-0.034),(2012.40,-0.031),(2012.50,-0.028),(2012.60,-0.024),(2012.65,-0.0215),(2012.70,-0.0235),(2012.80,-0.0235),(2012.90,-0.024),(2013.00,-0.025),(2013.10,-0.023),(2013.20,-0.0225),(2013.30,-0.021),(2013.40,-0.0205),(2013.50,-0.019),(2013.60,-0.0185),(2013.65,-0.0165),(2013.70,-0.0185),(2013.80,-0.0175),(2013.90,-0.018),(2014.00,-0.0195),(2014.10,-0.021),(2014.20,-0.022),(2014.30,-0.0235),(2014.40,-0.025),(2014.50,-0.028),(2014.60,-0.029),(2014.70,-0.0285),(2014.80,-0.026),(2014.90,-0.024),(2015.00,-0.021),(2015.05,-0.0225),(2015.10,-0.0275),(2015.20,-0.030),(2015.30,-0.0305),(2015.40,-0.030),(2015.50,-0.0325),(2015.60,-0.0345),(2015.70,-0.0355),(2015.80,-0.035),(2015.90,-0.0345),(2016.00,-0.036),(2016.02,-0.0425),(2016.10,-0.035),(2016.20,-0.034),(2016.30,-0.033),(2016.40,-0.032),(2016.45,-0.0315),(2016.50,-0.0195),(2016.60,-0.019),(2016.70,-0.018),(2016.80,-0.0175),(2016.90,-0.0165),(2017.00,-0.016),(2017.10,-0.0155),(2017.20,-0.0135),(2017.30,-0.0125),(2017.40,-0.0125),(2017.50,-0.0115),(2017.60,-0.0115),(2017.70,-0.0145),(2017.80,-0.015),(2017.90,-0.0165),(2018.00,-0.0185),(2018.10,-0.019),(2018.20,-0.0195),(2018.30,-0.0205),(2018.40,-0.0195),(2018.50,-0.0195),(2018.60,-0.019),(2018.70,-0.0175),(2018.80,-0.0145),(2018.90,-0.0135),(2019.00,-0.0145),(2019.10,-0.016),(2019.20,-0.0175),(2019.30,-0.0165),(2019.40,-0.016),(2019.50,-0.015),(2019.60,-0.0135),(2019.65,-0.0125),(2019.70,-0.028),(2019.75,-0.040),(2019.80,-0.045),(2019.90,-0.048),(2020.00,-0.0495),(2020.10,-0.0505),(2020.15,-0.051),(2020.20,-0.040),(2020.25,-0.030),(2020.30,-0.026),(2020.40,-0.024),(2020.50,-0.022),(2020.60,-0.0215),(2020.70,-0.020),(2020.80,-0.0185),(2020.90,-0.0165),(2021.00,-0.014),(2021.10,-0.0145),(2021.20,-0.0145),(2021.30,-0.015),(2021.40,-0.015),(2021.50,-0.0155),(2021.60,-0.0165),(2021.70,-0.019),(2021.75,-0.027),(2021.80,-0.028),(2021.90,-0.029),(2022.00,-0.032),(2022.05,-0.0325),(2022.10,-0.031),(2022.15,-0.029),(2022.20,-0.0245),(2022.30,-0.027),(2022.40,-0.026),(2022.50,-0.020),(2022.60,-0.019),(2022.70,-0.0165),(2022.80,-0.0175),(2022.90,-0.0175),(2023.00,-0.018),(2023.10,-0.0175),(2023.20,-0.0155),(2023.30,-0.015),(2023.40,-0.0145),(2023.50,-0.014),(2023.55,-0.0135)]

# average levels drawn as horizontal reference lines
BLACK_MEAN = {"CAC": -0.0215, "DAX": -0.02125, "IBEX": -0.02325,
              "SMI": -0.0165, "FTSE": -0.0174, "MIB": -0.0259}
RED_MEAN = {"CAC": -0.0231, "DAX": -0.0227, "IBEX": -0.0246,
            "SMI": -0.0178, "FTSE": -0.0196, "MIB": -0.0268}

SERIES = {"CAC": (CAC_BLACK, CAC_RED), "DAX": (DAX_BLACK, DAX_RED),
          "IBEX": (IBEX_BLACK, IBEX_RED), "SMI": (SMI_BLACK, SMI_RED),
          "FTSE": (FTSE_BLACK, FTSE_RED), "MIB": (MIB_BLACK, MIB_RED)}

YEAR_TICKS = list(range(2008, 2025))
Y_MAJOR = [-0.06, -0.04, -0.02]
Y_MINOR = [-0.05, -0.03, -0.01]

# ---------------------------------------------------------------- layout
W, H = 1074, 889
fig = plt.figure(figsize=(W / 100, H / 100), dpi=100)
fig.patch.set_facecolor("white")

# panel boxes in pixels: (left, top, right, bottom)
boxes = {
    "CAC": (39, 41, 516, 278), "DAX": (575, 41, 1053, 278),
    "IBEX": (39, 338, 516, 575), "SMI": (575, 338, 1053, 575),
    "FTSE": (39, 634, 516, 872), "MIB": (575, 634, 1053, 872),
}

GRID = "#E8E8E8"
BORDER = "#D0D0D0"
TEXT = "#4D4D4D"

for name in INDICES:
    l, t, r, b = boxes[name]
    ax = fig.add_axes([l / W, 1 - b / H, (r - l) / W, (b - t) / H])
    black, red = SERIES[name]
    bt = [p[0] for p in black]
    bv = [p[1] for p in black]
    rt = [p[0] for p in red]
    rv = [p[1] for p in red]

    t_lo = min(bt + rt)
    t_hi = max(bt + rt)
    span = t_hi - t_lo
    ax.set_xlim(t_lo - 0.05 * span, t_hi + 0.05 * span)
    ax.set_ylim(-0.0638, -0.0043)

    ax.plot(bt, bv, color="black", lw=0.9, drawstyle="steps-post", zorder=3)
    ax.plot(rt, rv, color="#FF0000", lw=0.9, zorder=4)
    ax.plot([t_lo, t_hi], [BLACK_MEAN[name]] * 2, color="#1A1A1A", lw=1.0, zorder=5)
    ax.plot([t_lo, t_hi], [RED_MEAN[name]] * 2, color="#FF0000", lw=1.6,
            alpha=0.55, zorder=5)

    # grid: major + minor, all the same light grey
    ax.xaxis.set_major_locator(FixedLocator(YEAR_TICKS))
    ax.xaxis.set_minor_locator(FixedLocator([y - 0.5 for y in YEAR_TICKS]))
    ax.yaxis.set_major_locator(FixedLocator(Y_MAJOR))
    ax.yaxis.set_minor_locator(FixedLocator(Y_MINOR))
    ax.xaxis.set_major_formatter(FuncFormatter(lambda v, p: f"{int(round(v))}"))
    ax.yaxis.set_major_formatter(FuncFormatter(lambda v, p: f"{v:.2f}"))
    ax.grid(which="major", color=GRID, lw=1.2, zorder=0)
    ax.grid(which="minor", color=GRID, lw=1.0, zorder=0)
    ax.set_axisbelow(True)

    ax.tick_params(which="major", length=2.5, width=0.8, color="#C8C8C8",
                   labelsize=8.2, labelcolor=TEXT, pad=1.8)
    ax.tick_params(which="minor", length=0)
    for sp in ax.spines.values():
        sp.set_color(BORDER)
        sp.set_linewidth(1.2)

    ax.set_title(name, fontsize=17, color="black", pad=8)

fig.savefig("out.png", dpi=100, facecolor="white")
